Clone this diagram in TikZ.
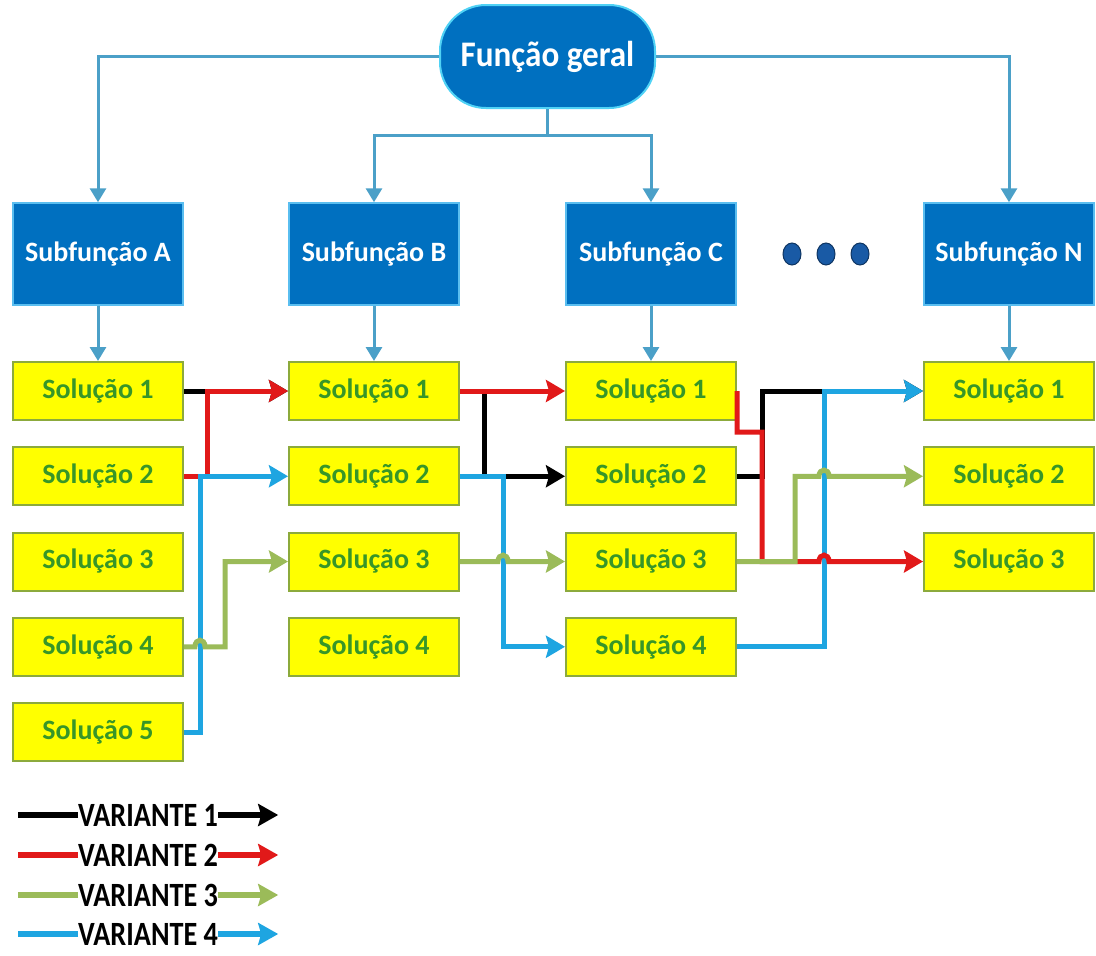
\documentclass[tikz,border=0pt]{standalone}
\usepackage{fontspec}
\setmainfont{Carlito}
\usetikzlibrary{arrows.meta,shapes.geometric}

\definecolor{subblue}{RGB}{0,112,192}
\definecolor{subedge}{RGB}{90,190,240}
\definecolor{topedge}{RGB}{80,210,245}
\definecolor{feedcol}{RGB}{75,160,200}
\definecolor{solfill}{RGB}{255,255,0}
\definecolor{soledge}{RGB}{140,170,60}
\definecolor{soltext}{RGB}{55,150,40}
\definecolor{vred}{RGB}{225,25,25}
\definecolor{vgreen}{RGB}{155,187,89}
\definecolor{vblue}{RGB}{30,165,225}
\definecolor{dotblue}{RGB}{25,90,165}

\begin{document}
\begin{tikzpicture}[x=1pt,y=-1pt,
  mainbox/.style={draw=topedge, line width=2pt, fill=subblue, rounded corners=46pt,
    minimum width=215pt, minimum height=103pt, inner sep=0pt, text=white,
    font=\fontsize{36}{40}\selectfont\bfseries},
  subbox/.style={draw=subedge, line width=1.5pt, fill=subblue, minimum width=170pt,
    minimum height=102pt, inner sep=0pt, text=white, font=\fontsize{28}{32}\selectfont\bfseries},
  solbox/.style={draw=soledge, line width=2pt, fill=solfill, minimum width=170pt,
    minimum height=58pt, inner sep=0pt, text=soltext, font=\fontsize{28}{32}\selectfont\bfseries},
  dotnode/.style={ellipse, fill=dotblue, draw=dotblue!60!black, line width=1pt,
    minimum width=18pt, minimum height=22pt, inner sep=0pt},
  feed/.style={draw=feedcol, line width=3pt, -{Triangle[length=14pt,width=16pt]}},
  var/.style={line width=5pt, line join=miter, -{Stealth[length=19pt,width=22pt,inset=3pt]}},
  vk/.style={var, draw=black},
  vr/.style={var, draw=vred},
  vg/.style={var, draw=vgreen},
  vb/.style={var, draw=vblue},
  legtext/.style={anchor=west, inner sep=0pt, text=black, font=\fontsize{34}{36}\selectfont\bfseries},
  legline/.style={line width=6pt},
  legarrow/.style={line width=6pt, -{Stealth[length=20pt,width=22pt,inset=3pt]}}
]
\useasboundingbox (0,0) rectangle (1096,956);

% overall function and sub-functions
\node[mainbox] (F) at (547.5,56.5) {\scalebox{0.92}[1]{Função geral}};
\node[subbox] (SA) at (98,254) {Subfunção A};
\node[subbox] (SB) at (374,254) {Subfunção B};
\node[subbox] (SC) at (651,254) {Subfunção C};
\node[subbox] (SN) at (1009,254) {Subfunção N};

% ellipsis between C and N
\node[dotnode] (d1) at (792,254) {};
\node[dotnode] (d2) at (826,254) {};
\node[dotnode] (d3) at (860,254) {};

% solution columns
\foreach \c/\x/\n in {A/98/5, B/374/4, C/651/4, N/1009/3}{
  \foreach \r in {1,...,\n}{
    \node[solbox] (\c\r) at (\x,{391+85.25*(\r-1)}) {Solução \r};
  }
}

% function tree
\coordinate (split) at (547.5,135);
\draw[feed] (F.west) -| (SA.north);
\draw[feed] (F.east) -| (SN.north);
\draw[draw=feedcol, line width=3pt] (F.south) -- (split);
\draw[feed] (split) -| (SB.north);
\draw[feed] (split) -| (SC.north);
\foreach \c in {A,B,C,N}{
  \draw[feed] (S\c.south) -- (\c1.north);
}

% variant 1
\draw[vk] (A1.east) -- (B1.west);
\draw[vk] (B1.east) -| (484,476.25) -- (C2.west);
\draw[vk] (C2.east) -| (762,391) -- (N1.west);

% variant 2 (first stage)
\draw[vr] (A2.east) -| (207,391) -- (B1.west);

% variant 4
\draw[vb] (A5.east) -| (200,476.25) -- (B2.west);
\draw[vb] (B2.east) -| (503,646.75) -- (C4.west);
\draw[vb] (C4.east) -| (824,391) -- (N1.west);

% variant 2 (later stages)
\draw[vr] (B1.east) -- (C1.west);
\draw[vr] (C1.east) |- (762,432) -- (762,561.5) -- (819,561.5)
  .. controls (819,553) and (829,553) .. (829,561.5) -- (N3.west);

% variant 3
\draw[vg] (A4.east) -- (195,646.75) .. controls (195,638) and (205,638) .. (205,646.75)
  -| (225,561.5) -- (B3.west);
\draw[vg] (B3.east) -- (498,561.5) .. controls (498,553) and (508,553) .. (508,561.5)
  -- (C3.west);
\draw[vg] (C3.east) -| (795,476.25) -- (819,476.25)
  .. controls (819,468) and (829,468) .. (829,476.25) -- (N2.west);

% legend
\foreach \i/\col/\yy in {1/black/815, 2/vred/855, 3/vgreen/895, 4/vblue/934}{
  \node[legtext] (L\i) at (78,\yy) {\scalebox{0.83}[1]{VARIANTE \i}};
  \draw[legline, draw=\col] (L\i.west) -- ++(-60,0);
  \draw[legarrow, draw=\col] (L\i.east) -- ++(60,0);
}
\end{tikzpicture}
\end{document}
